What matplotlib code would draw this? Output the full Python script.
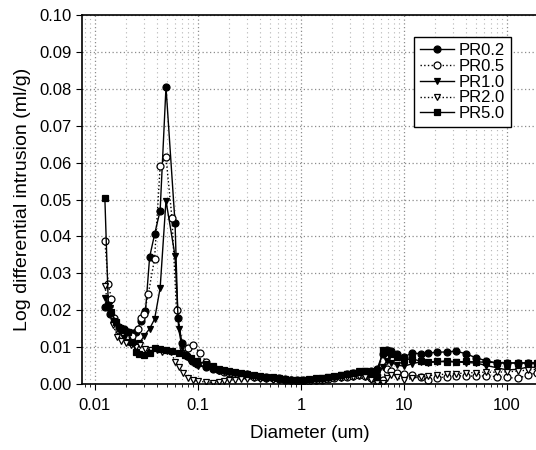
import matplotlib
matplotlib.use('Agg')
import matplotlib.pyplot as plt
from matplotlib.ticker import LogLocator, FixedLocator, FuncFormatter

plt.rcParams['font.family'] = ['Liberation Sans', 'DejaVu Sans']

# === MARK: Data (diameter in um, log differential intrusion in ml/g)
# low-diameter part of each curve (the big peak near 0.05 um)
d02 = [0.0125, 0.014, 0.0155, 0.017, 0.019, 0.021, 0.023, 0.025, 0.028, 0.031,
       0.034, 0.038, 0.043, 0.049, 0.060, 0.064, 0.070, 0.078, 0.088, 0.098]
v02 = [0.021, 0.019, 0.0168, 0.0155, 0.0148, 0.0142, 0.0138, 0.0140, 0.0170, 0.0198,
       0.0344, 0.0406, 0.047, 0.0805, 0.0436, 0.018, 0.011, 0.0075, 0.0062, 0.0055]

d05 = [0.0125, 0.0135, 0.0145, 0.0155, 0.017, 0.0185, 0.020, 0.023, 0.026, 0.028,
       0.030, 0.033, 0.038, 0.043, 0.049, 0.056, 0.062, 0.0715, 0.080, 0.0896, 0.105]
v05 = [0.0388, 0.027, 0.023, 0.018, 0.0145, 0.0133, 0.0128, 0.0130, 0.0150, 0.0180,
       0.0190, 0.0244, 0.0340, 0.0590, 0.0615, 0.0450, 0.0200, 0.0100, 0.0098, 0.0106, 0.0084]

d10 = [0.0125, 0.014, 0.0155, 0.017, 0.019, 0.021, 0.024, 0.027, 0.030, 0.034,
       0.038, 0.043, 0.049, 0.060, 0.065, 0.070, 0.078, 0.090, 0.100]
v10 = [0.0233, 0.0205, 0.0170, 0.0145, 0.0125, 0.0115, 0.0108, 0.0110, 0.0130, 0.0150,
       0.0176, 0.0260, 0.0497, 0.0347, 0.0150, 0.0100, 0.0072, 0.0058, 0.0050]

d20 = [0.0125, 0.0135, 0.015, 0.0165, 0.018, 0.020, 0.0225, 0.025, 0.0275, 0.031,
       0.035, 0.040, 0.045, 0.050, 0.055, 0.060, 0.066, 0.072, 0.080, 0.090, 0.100]
v20 = [0.0266, 0.0210, 0.0160, 0.0128, 0.0116, 0.0110, 0.0106, 0.0100, 0.0106, 0.0095,
       0.0092, 0.0092, 0.0088, 0.0090, 0.0087, 0.0060, 0.0045, 0.0030, 0.0016, 0.0010, 0.0008]

d50 = [0.0125, 0.0135, 0.0145, 0.016, 0.0175, 0.019, 0.021, 0.023, 0.025, 0.027,
       0.030, 0.034, 0.038, 0.043, 0.049, 0.056, 0.066, 0.075, 0.085, 0.097]
v50 = [0.0504, 0.0215, 0.0195, 0.0168, 0.0152, 0.0146, 0.0140, 0.0115, 0.0087, 0.0081,
       0.0079, 0.0085, 0.0097, 0.0095, 0.0092, 0.0090, 0.0084, 0.0079, 0.0070, 0.0062]

# shared diameters for the long low tail
d_tail = [0.12, 0.14, 0.16, 0.18, 0.2, 0.23, 0.26, 0.3, 0.35, 0.4,
          0.46, 0.53, 0.61, 0.7, 0.8, 0.92, 1.05, 1.2, 1.4, 1.6,
          1.85, 2.1, 2.45, 2.8, 3.2, 3.7, 4.2, 4.8, 5.5, 6.2,
          6.8, 7.5, 8.5, 10, 12, 14.5, 17, 21, 26, 32,
          40, 50, 63, 80, 100, 128, 160, 195]
tail02 = [0.0045, 0.0042, 0.0038, 0.0035, 0.0033, 0.0030, 0.0028, 0.0026, 0.0022, 0.0020,
          0.0018, 0.0016, 0.0015, 0.0013, 0.0012, 0.0010, 0.0010, 0.0011, 0.0012, 0.0014,
          0.0016, 0.0019, 0.0022, 0.0026, 0.0029, 0.0031, 0.0033, 0.0036, 0.0042, 0.0080,
          0.0092, 0.0090, 0.0080, 0.0073, 0.0084, 0.0082, 0.0084, 0.0086, 0.0087, 0.0089,
          0.0082, 0.0071, 0.0063, 0.0057, 0.0057, 0.0057, 0.0057, 0.0057]
tail05 = [0.0060, 0.0045, 0.0038, 0.0032, 0.0030, 0.0028, 0.0025, 0.0022, 0.0020, 0.0018,
          0.0016, 0.0015, 0.0014, 0.0012, 0.0010, 0.0008, 0.0008, 0.0009, 0.0010, 0.0012,
          0.0014, 0.0016, 0.0018, 0.0020, 0.0022, 0.0024, 0.0022, 0.0015, 0.0006, 0.0012,
          0.0040, 0.0035, 0.0030, 0.0028, 0.0025, 0.0020, 0.0012, 0.0016, 0.0020, 0.0022,
          0.0022, 0.0021, 0.0022, 0.0020, 0.0018, 0.0015, 0.0025, 0.0030]
tail10 = [0.0045, 0.0040, 0.0036, 0.0033, 0.0030, 0.0028, 0.0026, 0.0024, 0.0021, 0.0019,
          0.0017, 0.0014, 0.0012, 0.0010, 0.0008, 0.0007, 0.0008, 0.0010, 0.0013, 0.0016,
          0.0018, 0.0020, 0.0024, 0.0027, 0.0030, 0.0034, 0.0036, 0.0033, 0.0025, 0.0045,
          0.0062, 0.0058, 0.0052, 0.0048, 0.0055, 0.0060, 0.0058, 0.0060, 0.0063, 0.0060,
          0.0058, 0.0057, 0.0050, 0.0044, 0.0038, 0.0040, 0.0046, 0.0045]
tail20 = [0.0005, 0.0004, 0.0006, 0.0008, 0.0010, 0.0012, 0.0013, 0.0014, 0.0015, 0.0014,
          0.0013, 0.0012, 0.0011, 0.0010, 0.0009, 0.0008, 0.0009, 0.0010, 0.0011, 0.0012,
          0.0013, 0.0015, 0.0017, 0.0019, 0.0020, 0.0022, 0.0020, 0.0012, 0.0004, 0.0003,
          0.0015, 0.0025, 0.0018, 0.0010, 0.0015, 0.0020, 0.0022, 0.0025, 0.0027, 0.0028,
          0.0030, 0.0031, 0.0032, 0.0032, 0.0033, 0.0035, 0.0038, 0.0040]
tail50 = [0.0055, 0.0048, 0.0042, 0.0038, 0.0035, 0.0032, 0.0030, 0.0027, 0.0024, 0.0022,
          0.0020, 0.0018, 0.0016, 0.0014, 0.0012, 0.0011, 0.0012, 0.0013, 0.0015, 0.0017,
          0.0020, 0.0022, 0.0025, 0.0028, 0.0030, 0.0033, 0.0035, 0.0030, 0.0020, 0.0092,
          0.0088, 0.0080, 0.0072, 0.0066, 0.0068, 0.0062, 0.0060, 0.0061, 0.0060, 0.0060,
          0.0061, 0.0060, 0.0059, 0.0058, 0.0057, 0.0057, 0.0057, 0.0057]

labels = ['PR0.2', 'PR0.5', 'PR1.0', 'PR2.0', 'PR5.0']

# === MARK: Plot
fig = plt.figure(figsize=(5.36, 4.5), dpi=100)
ax = fig.add_axes([82 / 536, 66 / 450, 456 / 536, 369 / 450])

series = [
    (d02 + d_tail, v02 + tail02, dict(marker='o', mfc='black', ls='-')),
    (d05 + d_tail, v05 + tail05, dict(marker='o', mfc='white', ls=':')),
    (d10 + d_tail, v10 + tail10, dict(marker='v', mfc='black', ls='-')),
    (d20 + d_tail, v20 + tail20, dict(marker='v', mfc='white', ls=':')),
    (d50 + d_tail, v50 + tail50, dict(marker='s', mfc='black', ls='-')),
]
for (x, y, style), label in zip(series, labels):
    ax.plot(x, y, color='black', lw=1.0, ms=5, mec='black', mew=0.9,
            label=label, **style)

ax.set_xscale('log')
ax.set_xlim(0.0075, 200)
ax.set_ylim(0, 0.10)
ax.yaxis.set_major_locator(FixedLocator([i / 100 for i in range(11)]))
ax.yaxis.set_major_formatter(FuncFormatter(lambda v, p: f'{v:.2f}'))
ax.xaxis.set_major_locator(LogLocator(base=10, numticks=10))
ax.xaxis.set_minor_locator(LogLocator(base=10, subs=range(2, 10), numticks=20))
ax.xaxis.set_major_formatter(FuncFormatter(lambda v, p: f'{v:g}'))

ax.grid(True, which='major', color='#8c8c8c', ls=(0, (1, 2)), lw=0.9)
ax.grid(True, which='minor', axis='x', color='#b4b4b4', ls=(0, (1, 3)), lw=0.8)
ax.set_axisbelow(True)

ax.tick_params(axis='both', which='major', direction='out', length=4, labelsize=12)
ax.tick_params(axis='x', which='major', pad=6)
ax.tick_params(axis='x', which='minor', direction='out', length=2)
ax.spines['right'].set_visible(False)
for s in ['left', 'bottom', 'top']:
    ax.spines[s].set_linewidth(1.2)

ax.set_xlabel('Diameter (um)', fontsize=13.5, labelpad=9)
ax.set_ylabel('Log differential intrusion (ml/g)', fontsize=14, labelpad=6)

leg = ax.legend(loc='upper right', bbox_to_anchor=(0.94, 0.94), borderaxespad=0,
                fontsize=12, frameon=True, fancybox=False, edgecolor='black',
                framealpha=1, handlelength=2.0, labelspacing=0.05, borderpad=0.35,
                handletextpad=0.3)
leg.get_frame().set_linewidth(1.0)

fig.savefig('out.png', dpi=100)
